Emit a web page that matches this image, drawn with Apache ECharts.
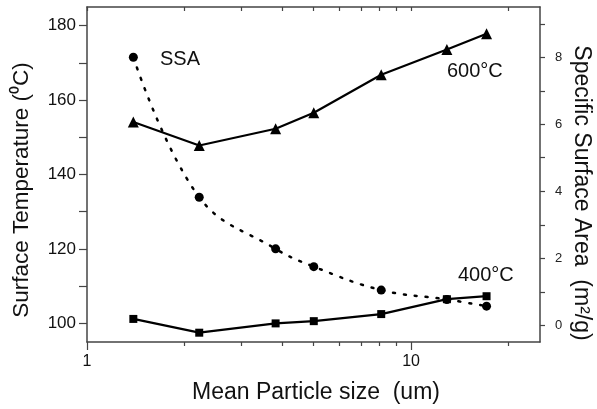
<!DOCTYPE html>
<html>
<head>
<meta charset="utf-8">
<script src="https://cdn.jsdelivr.net/npm/echarts@6/dist/echarts.min.js"></script>
<style>
  html, body { margin: 0; padding: 0; background: #fff; }
  #chart { width: 597px; height: 409px; }
</style>
</head>
<body>
<div id="chart"></div>
<script>
const sizes = [1.39, 2.22, 3.82, 5.01, 8.09, 12.9, 17.1];
const temp600 = [154.1, 147.8, 152.3, 156.6, 166.8, 173.6, 177.8];
const temp400 = [101.2, 97.5, 100.0, 100.6, 102.5, 106.5, 107.3];
const ssa = [8.0, 3.82, 2.28, 1.75, 1.05, 0.77, 0.57];

const xMajor = [1, 10];
const xMinor = [2, 3, 4, 5, 6, 7, 8, 9, 20];
const leftTicks = [100, 110, 120, 130, 140, 150, 160, 170, 180];
const leftLabels = [100, 120, 140, 160, 180];
const rightTicks = [0, 1, 2, 3, 4, 5, 6, 7, 8, 9];
const rightLabels = [0, 2, 4, 6, 8];

const font = 'Liberation Sans, Arial, sans-serif';
const frame = '#444';

const pairs = (ys) => sizes.map((x, i) => [x, ys[i]]);

const chart = echarts.init(document.getElementById('chart'));

const logAxis = {
  type: 'log', logBase: 10, min: 1, max: 25,
  splitLine: { show: false }
};

const option = {
  animation: false,
  grid: { left: 87, right: 57, top: 7, bottom: 67 },
  xAxis: [
    Object.assign({}, logAxis, {
      position: 'bottom',
      axisLine: { show: true, onZero: false, lineStyle: { color: frame, width: 1.5 } },
      axisTick: { show: true, inside: false, length: 8, customValues: xMajor, lineStyle: { color: frame, width: 1.2 } },
      axisLabel: { show: true, customValues: xMajor, margin: 12, fontFamily: font, fontSize: 16, color: '#111' }
    }),
    Object.assign({}, logAxis, {
      position: 'bottom',
      axisLine: { show: false, onZero: false },
      axisTick: { show: true, inside: false, length: 4, customValues: xMinor, lineStyle: { color: frame, width: 1.2 } },
      axisLabel: { show: false }
    }),
    Object.assign({}, logAxis, {
      position: 'top',
      axisLine: { show: true, onZero: false, lineStyle: { color: frame, width: 1.5 } },
      axisTick: { show: true, inside: true, length: 4, customValues: xMajor.concat(xMinor), lineStyle: { color: frame, width: 1.2 } },
      axisLabel: { show: false }
    })
  ],
  yAxis: [
    {
      type: 'value', position: 'left', min: 95, max: 185,
      splitLine: { show: false },
      axisLine: { show: true, onZero: false, lineStyle: { color: frame, width: 1.5 } },
      axisTick: { show: true, length: 8, customValues: leftTicks, lineStyle: { color: frame, width: 1.2 } },
      axisLabel: { customValues: leftLabels, margin: 11, fontFamily: font, fontSize: 17, color: '#111' }
    },
    {
      type: 'value', position: 'right', min: -0.5, max: 9.5,
      splitLine: { show: false },
      axisLine: { show: true, onZero: false, lineStyle: { color: frame, width: 1.5 } },
      axisTick: { show: true, length: 5, customValues: rightTicks, lineStyle: { color: frame, width: 1.2 } },
      axisLabel: { customValues: rightLabels, margin: 15, fontFamily: font, fontSize: 13, color: '#222' }
    }
  ],
  series: [
    {
      name: '600C', type: 'line', xAxisIndex: 0, yAxisIndex: 0,
      data: pairs(temp600),
      symbol: 'triangle', symbolSize: 11,
      itemStyle: { color: '#000' },
      lineStyle: { color: '#000', width: 2.2 }
    },
    {
      name: '400C', type: 'line', xAxisIndex: 0, yAxisIndex: 0,
      data: pairs(temp400),
      symbol: 'rect', symbolSize: 8,
      itemStyle: { color: '#000' },
      lineStyle: { color: '#000', width: 2.2 }
    },
    {
      name: 'SSA', type: 'line', xAxisIndex: 0, yAxisIndex: 1,
      data: pairs(ssa),
      smooth: 0.4,
      symbol: 'circle', symbolSize: 9,
      itemStyle: { color: '#000' },
      lineStyle: { color: '#000', width: 2.5, type: [2, 9], cap: 'round' }
    }
  ],
  graphic: [
    { type: 'text', left: 160, top: 49, style: { text: 'SSA', font: '20px ' + font, fill: '#111' } },
    { type: 'text', left: 447, top: 61, style: { text: '600\u00b0C', font: '20px ' + font, fill: '#111' } },
    { type: 'text', left: 458, top: 265, style: { text: '400\u00b0C', font: '20px ' + font, fill: '#111' } },
    // axis titles
    { type: 'text', x: 316, y: 393, style: { text: 'Mean Particle size  (um)', font: '23px ' + font, fill: '#111', align: 'center', verticalAlign: 'middle' } },
    { type: 'text', x: 22, y: 190, rotation: Math.PI / 2, style: { text: 'Surface Temperature (\u2070C)', font: '22.5px ' + font, fill: '#111', align: 'center', verticalAlign: 'middle' } },
    { type: 'text', x: 581, y: 193, rotation: -Math.PI / 2, style: { text: 'Specific Surface Area  (m\u00b2/g)', font: '23px ' + font, fill: '#111', align: 'center', verticalAlign: 'middle' } }
  ]
};

chart.setOption(option);
</script>
</body>
</html>
